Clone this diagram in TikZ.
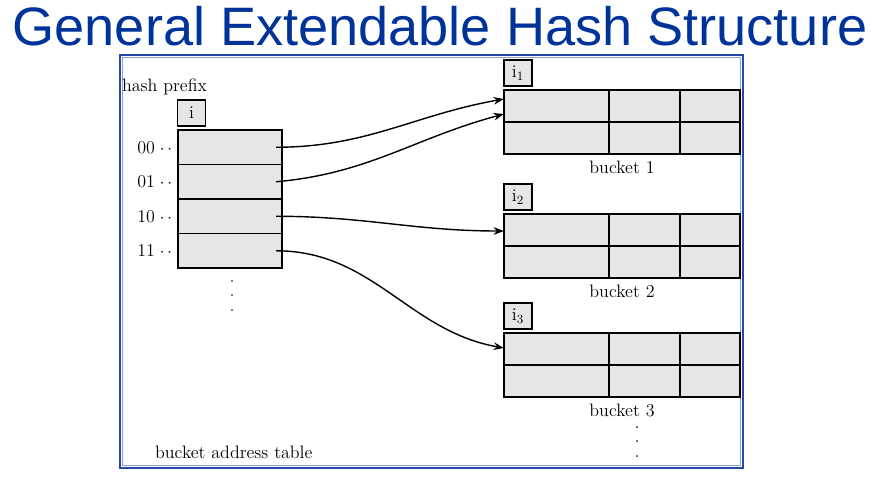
\documentclass[tikz,border=0pt]{standalone}
\usepackage{fontspec}
\newfontfamily\titlefont{Liberation Sans}
\usepackage{tikz}
\usetikzlibrary{arrows.meta, positioning, calc}
\definecolor{titleblue}{RGB}{0,51,153}
\definecolor{frameblue}{RGB}{40,70,170}
\definecolor{framelight}{RGB}{135,160,225}
\definecolor{cellgray}{RGB}{230,230,230}
\tikzset{
    slot/.style={draw, line width=1pt, fill=cellgray, minimum width=2.6cm,
        minimum height=0.8625cm, inner sep=0pt, outer sep=0pt},
    bucketbox/.style={draw, line width=1pt, fill=cellgray, minimum width=5.9cm,
        minimum height=1.6cm, inner sep=0pt, outer sep=0pt},
    depthbox/.style={draw, line width=1pt, fill=cellgray, minimum width=0.7cm,
        minimum height=0.65cm, inner sep=0pt, outer sep=0pt, font=\fontsize{12.8}{15}\selectfont},
    lbl/.style={font=\fontsize{12.8}{15}\selectfont, inner sep=2pt},
    ptr/.style={-{Stealth[length=2.6mm, width=1.9mm]}, line width=1pt},
}
\begin{document}
\begin{tikzpicture}[x=0.025cm, y=-0.025cm]
        \useasboundingbox (0,0) rectangle (872,499);

        % Titulek
        \node[text=titleblue, font=\titlefont\fontsize{38.5}{40}\selectfont] (title) at (440,26)
            {General Extendable Hash Structure};

        % Ramecek
        \draw[frameblue, line width=1.3pt] (120,55) rectangle (743,468);
        \draw[framelight, line width=0.8pt] (122.5,57.5) rectangle (740.5,465.5);

        % Adresar
        \node[lbl, anchor=west] (prefix) at (119,87) {hash prefix};
        \node[depthbox] (gd) at (191.5,113) {i};
        \node[slot] (r00) at (230,147.25) {};
        \node[slot, below=0pt of r00] (r01) {};
        \node[slot, below=0pt of r01] (r10) {};
        \node[slot, below=0pt of r10] (r11) {};
        \foreach \r in {00,01,10} {
            \draw[line width=1pt] (r\r.south west) -- (r\r.south east);
        }
        \foreach \r in {00,01,10,11} {
            \node[lbl, left=2pt of r\r] (l\r) {\r\;$\cdot\,\cdot$};
            \coordinate (p\r) at ($(r\r.east)+(-6,0)$);
        }
        \foreach \y in {281,295,310} {
            \fill (232,\y) circle (0.7pt);
        }
        \node[lbl, anchor=west] (table) at (152,452) {bucket address table};

        % Kbeliky
        \foreach \n/\t in {1/90, 2/214, 3/333} {
            \node[bucketbox] (b\n) at (622,\t+32) {};
            \draw[line width=1pt] (b\n.west) -- (b\n.east);
            \draw[line width=1pt] (609,\t) -- (609,\t+64);
            \draw[line width=1pt] (680,\t) -- (680,\t+64);
            \node[depthbox, anchor=south west] (d\n) at ($(b\n.north west)+(0,-4)$) {i$_{\n}$};
            \node[lbl] (n\n) at ($(b\n.south)+(0,13)$) {bucket \n};
        }
        \foreach \y in {427,441,456} {
            \fill (637,\y) circle (0.7pt);
        }

        % Ukazatele
        \coordinate (e1a) at ($(b1.west)+(0,-23)$);
        \coordinate (e1b) at ($(b1.west)+(0,-8)$);
        \coordinate (e2) at ($(b2.west)+(0,-15)$);
        \coordinate (e3) at ($(b3.west)+(0,-17)$);

        \draw[ptr] (p00) to[out=0, in=190] (e1a);
        \draw[ptr] (p01) to[out=5, in=195] (e1b);
        \draw[ptr] (p10) to[out=0, in=180] (e2);
        \draw[ptr] (p11) to[out=0, in=170] (e3);
    \end{tikzpicture}
\end{document}
